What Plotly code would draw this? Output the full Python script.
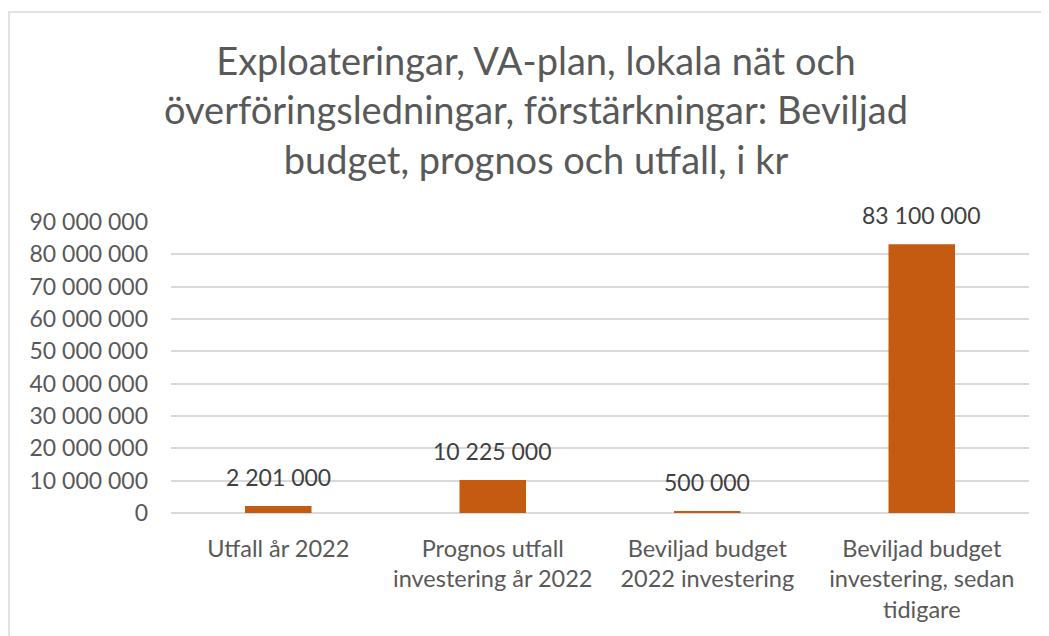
import plotly.graph_objects as go

categories = [
    "Utfall år 2022",
    "Prognos utfall<br>investering år 2022",
    "Beviljad budget<br>2022 investering",
    "Beviljad budget<br>investering, sedan<br>tidigare",
]
values = [2201000, 10225000, 500000, 83100000]
tick_vals = [0, 10000000, 20000000, 30000000, 40000000, 50000000, 60000000, 70000000, 80000000, 90000000]
title_text = ("Exploateringar, VA-plan, lokala nät och<br>"
              "överföringsledningar, förstärkningar: Beviljad<br>"
              "budget, prognos och utfall, i kr")

FONT = "Lato, 'Open Sans', sans-serif"
GRAY = "#595959"

# page body has an 8px margin; layout numbers below are in figure pixels
L, T, W, H = 163, 214, 858, 291

fig = go.Figure()
fig.add_trace(go.Bar(
    x=categories, y=values,
    marker=dict(color="#C55A11", line=dict(width=0)),
    width=0.31,
    hoverinfo="skip",
))

for c, v in zip(categories, values):
    fig.add_annotation(
        x=c, y=v, xref="x", yref="y",
        text=f"{v:,}".replace(",", " "),
        showarrow=False, yanchor="bottom", yshift=13,
        font=dict(family=FONT, size=23, color="#404040"),
    )

# chart frame border (extends past the visible area, as in reference)
fig.add_shape(type="rect", xref="paper", yref="paper",
              x0=(1 - L) / W, x1=(1080 - L) / W,
              y0=(T + H - 660) / H, y1=(T + H - 4) / H,
              line=dict(color="#D9D9D9", width=1.5), fillcolor="rgba(0,0,0,0)", layer="below")

fig.update_layout(
    width=1049, height=636,
    margin=dict(l=L, r=1049 - L - W, t=T, b=636 - T - H, autoexpand=False),
    paper_bgcolor="white", plot_bgcolor="white",
    separators=", ",
    showlegend=False,
    title=dict(text=title_text, x=528 / 1049, xanchor="center", xref="container",
               y=1 - 67 / 636, yanchor="top", yref="container",
               font=dict(family=FONT, size=38, color=GRAY)),
    xaxis=dict(showline=False, showgrid=False, ticks="", automargin=False,
               ticklabelstandoff=19,
               tickfont=dict(family=FONT, size=23.5, color=GRAY)),
    yaxis=dict(range=[0, 90000000], tickvals=tick_vals, tickformat=",.0f",
               showgrid=True, gridcolor="#D9D9D9", gridwidth=1.5, automargin=False,
               zeroline=True, zerolinecolor="#D9D9D9", zerolinewidth=1.5,
               showline=False, ticks="", ticklabelstandoff=22,
               tickfont=dict(family=FONT, size=23, color=GRAY)),
)

fig.write_html("out.html")
